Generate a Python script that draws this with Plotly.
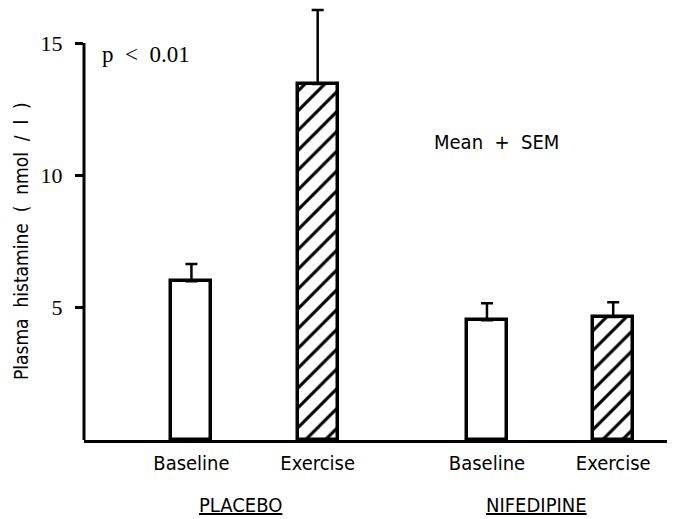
import plotly.graph_objects as go

# ---- data ----
groups = ["PLACEBO", "NIFEDIPINE"]
conditions = ["Baseline", "Exercise"]
mean_values = [6.0, 13.45, 4.53, 4.65]
sem_values = [0.65, 2.8, 0.64, 0.56]
y_ticks = [5, 10, 15]
y_tick_labels = ["5", "10", "15"]

# ---- layout helpers ----
GROUP_GAP = 2.327
WITHIN_GAP = 0.994
xpos = []
for g in range(len(groups)):
    for k in range(len(conditions)):
        xpos.append(g * GROUP_GAP + k * WITHIN_GAP)
xlabels = conditions * len(groups)

SANS = "DejaVu Sans Condensed, DejaVu Sans, sans-serif"
SERIF = "Liberation Serif, Times New Roman, serif"

# page offset (body margin) is 8px; figure sized to fit window
OFF = 8
FIG_W, FIG_H = 675 - OFF, 519 - OFF
AX_X = 84 - OFF          # y axis position in figure px
AX_Y = 440 - OFF         # x axis position in figure px
PLOT_W = FIG_W - AX_X
PX_PER_UNIT = 132.3 / 5
Y_TOP = AX_Y / PX_PER_UNIT


def px(page_x):
    return (page_x - 84) / PLOT_W


def py(page_y):
    return (440 - page_y) / AX_Y


fig = go.Figure()
fig.add_trace(go.Bar(
    x=xpos,
    y=mean_values,
    width=0.315,
    marker=dict(
        color="white",
        line=dict(color="black", width=3.5),
        pattern=dict(
            shape=["", "/", "", "/"],
            fgcolor="black",
            fgopacity=1,
            bgcolor="white",
            size=14,
            solidity=0.22,
        ),
    ),
    error_y=dict(
        type="data",
        symmetric=False,
        array=sem_values,
        arrayminus=[0] * len(sem_values),
        color="black",
        thickness=2.5,
        width=6,
    ),
    cliponaxis=False,
    showlegend=False,
))

x_left = -0.846
x_right = x_left + PLOT_W / 127

fig.update_layout(
    width=FIG_W,
    height=FIG_H,
    margin=dict(l=AX_X, r=0, t=0, b=FIG_H - AX_Y, autoexpand=False),
    paper_bgcolor="white",
    plot_bgcolor="white",
    bargap=0,
    xaxis=dict(
        range=[x_left, x_right],
        automargin=False,
        showgrid=False,
        zeroline=False,
        showline=True,
        linecolor="black",
        linewidth=3,
        tickvals=xpos,
        ticktext=xlabels,
        ticks="",
        ticklabelstandoff=3,
        tickfont=dict(family=SANS, size=20, color="black"),
    ),
    yaxis=dict(
        range=[0, Y_TOP],
        automargin=False,
        showgrid=False,
        zeroline=False,
        showline=False,
        tickvals=y_ticks,
        ticktext=y_tick_labels,
        ticks="outside",
        ticklen=8,
        tickwidth=3,
        tickcolor="black",
        ticklabelstandoff=8,
        tickfont=dict(family=SERIF, size=22, color="black"),
    ),
)

# y axis line up to top tick
fig.add_shape(type="line", xref="paper", yref="y", x0=0, x1=0, y0=0, y1=max(y_ticks),
              line=dict(color="black", width=3))

# group labels (underlined)
for g, name in enumerate(groups):
    cx = g * GROUP_GAP + WITHIN_GAP * (len(conditions) - 1) / 2 - 0.11
    fig.add_annotation(x=cx, xref="x", xanchor="center",
                       y=py(505), yref="paper", yanchor="middle",
                       text="<u>" + name + "</u>", showarrow=False,
                       font=dict(family=SANS, size=20, color="black"))

# y axis title
fig.add_annotation(x=px(21), xref="paper", xanchor="center",
                   y=py(241), yref="paper", yanchor="middle",
                   text="Plasma\u00a0 histamine\u00a0 (\u00a0 nmol\u00a0 /\u00a0 l\u00a0 )",
                   textangle=-90, showarrow=False,
                   font=dict(family=SANS, size=19, color="black"))

# p value
fig.add_annotation(x=px(146), xref="paper", xanchor="center",
                   y=py(55), yref="paper", yanchor="middle",
                   text="p\u00a0 <\u00a0 0.01", showarrow=False,
                   font=dict(family=SERIF, size=23, color="black"))

# Mean + SEM
fig.add_annotation(x=px(496), xref="paper", xanchor="center",
                   y=py(142), yref="paper", yanchor="middle",
                   text="Mean\u00a0 +\u00a0 SEM", showarrow=False,
                   font=dict(family=SANS, size=20, color="black"))

fig.write_html("out.html")
